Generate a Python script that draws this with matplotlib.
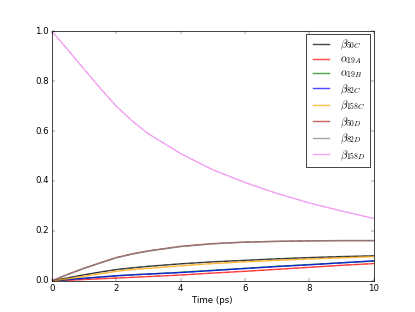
import matplotlib
matplotlib.use('Agg')
import matplotlib.pyplot as plt

plt.style.use('classic')

t = [0, 0.5, 1, 1.5, 2, 2.5, 3, 4, 5, 6, 7, 8, 9, 10]

b50C = [0, 0.012, 0.024, 0.035, 0.045, 0.052, 0.058, 0.068, 0.076, 0.082, 0.088, 0.093, 0.097, 0.100]
a19A = [0, 0.002, 0.005, 0.008, 0.011, 0.014, 0.017, 0.023, 0.031, 0.038, 0.046, 0.054, 0.062, 0.069]
a19B = [0, 0.005, 0.010, 0.015, 0.020, 0.024, 0.027, 0.034, 0.042, 0.050, 0.058, 0.065, 0.072, 0.079]
b82C = [0, 0.005, 0.010, 0.015, 0.020, 0.024, 0.027, 0.033, 0.041, 0.049, 0.057, 0.064, 0.072, 0.080]
b158C = [0, 0.008, 0.018, 0.028, 0.038, 0.045, 0.050, 0.060, 0.069, 0.076, 0.082, 0.087, 0.092, 0.097]
b50D = [0, 0.026, 0.050, 0.072, 0.093, 0.108, 0.120, 0.138, 0.149, 0.155, 0.158, 0.160, 0.161, 0.161]
b82D = [0, 0.026, 0.050, 0.071, 0.092, 0.107, 0.119, 0.137, 0.148, 0.155, 0.158, 0.160, 0.161, 0.161]
b158D = [1.0, 0.925, 0.848, 0.772, 0.700, 0.640, 0.589, 0.51, 0.445, 0.394, 0.35, 0.312, 0.28, 0.25]

series = [b50C, a19A, a19B, b82C, b158C, b50D, b82D, b158D]
labels = [r'$\beta_{50C}$', r'$\alpha_{19A}$', r'$\alpha_{19B}$', r'$\beta_{82C}$',
          r'$\beta_{158C}$', r'$\beta_{50D}$', r'$\beta_{82D}$', r'$\beta_{158D}$']
colors = ['k', 'r', 'g', 'b', 'orange', 'firebrick', 'gray', 'violet']

fig = plt.figure(figsize=(415 / 52, 6), dpi=52)
ax = fig.add_subplot(111)

for y, lab, c in zip(series, labels, colors):
    ax.plot(t, y, color=c, alpha=0.7, lw=2, label=lab)
    ax.plot(t, y, color=c, alpha=0.5, lw=1, ls='--')

ax.set_xlim(0, 10)
ax.set_ylim(0, 1)
ax.set_xlabel('Time (ps)')
ax.legend(loc='upper right', fontsize=15, labelspacing=0.2,
          bbox_to_anchor=(0.99, 0.99), borderaxespad=0)

fig.savefig('out.png', dpi=52)
